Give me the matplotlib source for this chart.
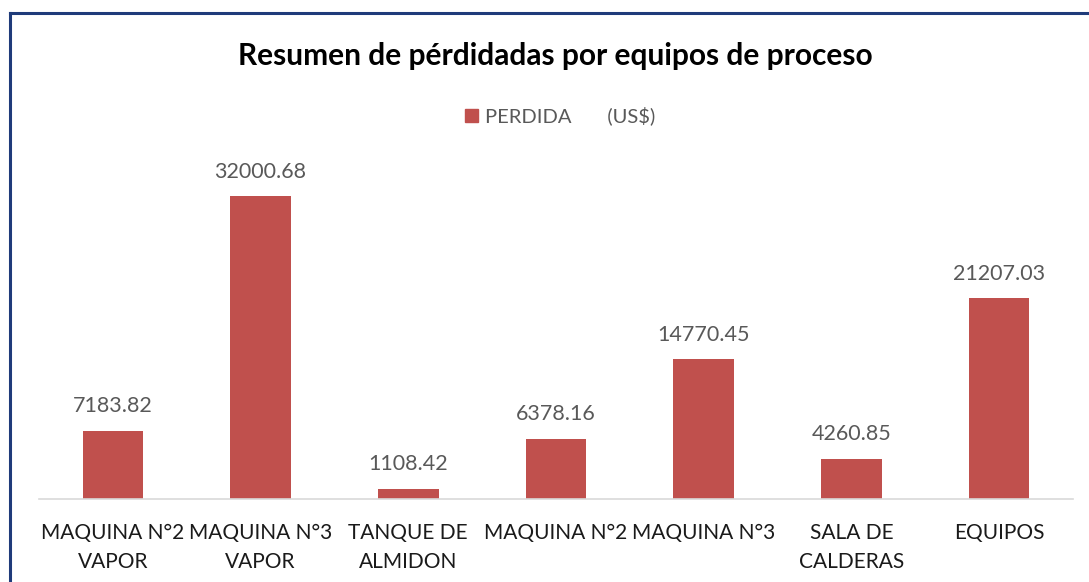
import matplotlib.pyplot as plt
from matplotlib.lines import Line2D
from matplotlib.patches import Patch

plt.rcParams['font.family'] = ['Lato', 'DejaVu Sans']

categorias = ['MAQUINA N°2\nVAPOR', 'MAQUINA N°3\nVAPOR', 'TANQUE DE\nALMIDON',
              'MAQUINA N°2', 'MAQUINA N°3', 'SALA DE\nCALDERAS', 'EQUIPOS']
perdidas = [7183.82, 32000.68, 1108.42, 6378.16, 14770.45, 4260.85, 21207.03]

W, H = 1089, 582
fig = plt.figure(figsize=(W / 100, H / 100), dpi=100)
ax = fig.add_axes([39 / W, 1 - 499 / H, (1073 - 39) / W, (499 - 168) / H])

color_barra = '#C0504D'
x = range(len(categorias))
barras = ax.bar(x, perdidas, width=0.41, color=color_barra)

# etiquetas de valor encima de cada barra
for xi, v in zip(x, perdidas):
    ax.annotate(f'{v:.2f}', (xi, v), xytext=(0, 10.5), textcoords='offset points',
                ha='center', va='bottom', fontsize=15.5, color='#595959')

ax.set_xlim(-0.5, len(categorias) - 0.5)
ax.set_ylim(0, 35000)
ax.set_xticks(list(x))
ax.set_xticklabels(categorias, fontsize=15, color='#1a1a1a', linespacing=1.58)
ax.tick_params(axis='x', length=0, pad=17)
ax.set_yticks([])
for lado in ['top', 'right', 'left']:
    ax.spines[lado].set_visible(False)
ax.spines['bottom'].set_color('#D9D9D9')
ax.spines['bottom'].set_linewidth(1.2)

fig.text(555 / W, 1 - 56 / H, 'Resumen de pérdidadas por equipos de proceso',
         ha='center', va='center', fontsize=21.5, fontweight='bold', color='black')

fig.legend(handles=[Patch(color=color_barra)], labels=['PERDIDA       (US$)'],
           loc='center', bbox_to_anchor=(560 / W, 1 - 116 / H), frameon=False,
           fontsize=14.5, labelcolor='#595959', handlelength=0.62, handleheight=0.62,
           handletextpad=0.35)

# marco del grafico (solo borde superior e izquierdo visibles)
fig.add_artist(Line2D([10 / W, 10 / W], [0, 1 - 13 / H], color='#1F3B7A', lw=2.2))
fig.add_artist(Line2D([10 / W, 1], [1 - 13 / H, 1 - 13 / H], color='#1F3B7A', lw=2.2))

fig.savefig('out.png', dpi=100)
